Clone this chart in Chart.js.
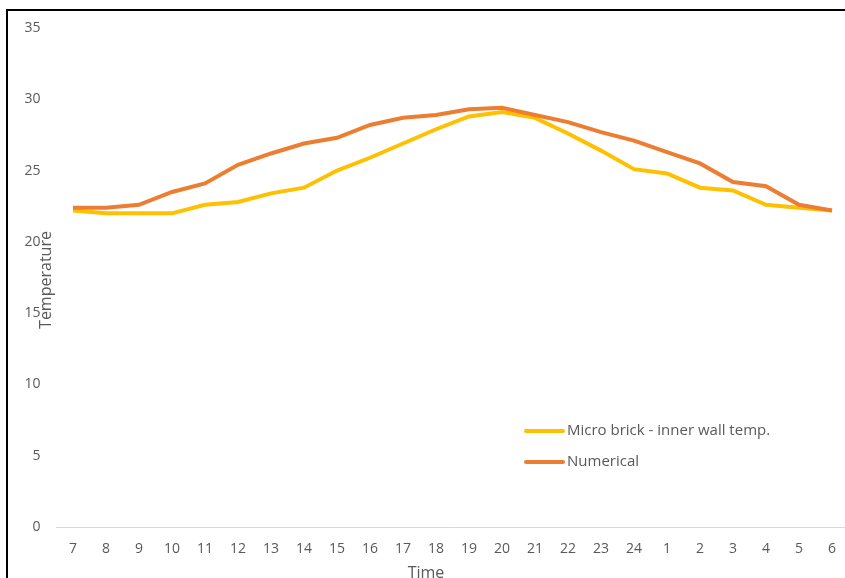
<!DOCTYPE html>
<html lang="en">
<head>
  <meta charset="UTF-8" />
  <title>Temperature</title>
  <script src="https://cdn.jsdelivr.net/npm/chart.js"></script>
  <style>
    body {
      margin: 0;
      background-color: #ffffff;
      overflow: hidden;
    }
    #wrap {
      position: relative;
      width: 845px;
      height: 578px;
      overflow: hidden;
    }
  </style>
</head>
<body>
  <div id="wrap">
    <canvas id="tempChart" width="850" height="578"></canvas>
  </div>

  <script>
    const hours = ["7", "8", "9", "10", "11", "12", "13", "14", "15", "16", "17", "18",
                   "19", "20", "21", "22", "23", "24", "1", "2", "3", "4", "5", "6"];

    const microBrick = [22.2, 22.0, 22.0, 22.0, 22.6, 22.8, 23.4, 23.8, 25.0, 25.9, 26.9, 27.9,
                        28.8, 29.1, 28.7, 27.6, 26.4, 25.1, 24.8, 23.8, 23.6, 22.6, 22.4, 22.2];

    const numerical = [22.4, 22.4, 22.6, 23.5, 24.1, 25.4, 26.2, 26.9, 27.3, 28.2, 28.7, 28.9,
                       29.3, 29.4, 28.9, 28.4, 27.7, 27.1, 26.3, 25.5, 24.2, 23.9, 22.6, 22.2];

    const yTicks = [0, 5, 10, 15, 20, 25, 30, 35];

    const textColor = "#595959";
    const fontFamily = "'Open Sans', sans-serif";

    // frame, axis titles and in-plot legend
    const extras = {
      id: "extras",
      afterDraw(chart) {
        const ctx = chart.ctx;
        ctx.save();

        ctx.strokeStyle = "#000000";
        ctx.lineWidth = 2;
        ctx.beginPath();
        ctx.moveTo(7, 578);
        ctx.lineTo(7, 10);
        ctx.lineTo(850, 10);
        ctx.stroke();

        ctx.fillStyle = textColor;
        ctx.font = "16px " + fontFamily;
        ctx.textAlign = "center";
        ctx.textBaseline = "middle";
        ctx.fillText("Time", 426, 573);

        ctx.save();
        ctx.translate(46, 280);
        ctx.rotate(-Math.PI / 2);
        ctx.fillText("Temperature", 0, 0);
        ctx.restore();

        ctx.font = "15px " + fontFamily;
        ctx.textAlign = "left";
        chart.data.datasets.forEach((ds, i) => {
          const y = 431 + i * 31;
          ctx.strokeStyle = ds.borderColor;
          ctx.lineWidth = 4;
          ctx.lineCap = "round";
          ctx.beginPath();
          ctx.moveTo(526, y);
          ctx.lineTo(563, y);
          ctx.stroke();
          ctx.fillText(ds.label, 567, y);
        });

        ctx.restore();
      }
    };

    const ctx = document.getElementById("tempChart").getContext("2d");
    new Chart(ctx, {
      type: "line",
      data: {
        labels: hours,
        datasets: [
          {
            label: "Micro brick - inner wall temp.",
            data: microBrick,
            borderColor: "#FFC000",
            borderWidth: 4,
            pointRadius: 0,
            tension: 0,
            order: 1
          },
          {
            label: "Numerical",
            data: numerical,
            borderColor: "#ED7D31",
            borderWidth: 4,
            pointRadius: 0,
            tension: 0,
            order: 0
          }
        ]
      },
      options: {
        responsive: false,
        animation: false,
        layout: {
          padding: { left: 6, top: 28, right: 0, bottom: 0 }
        },
        plugins: {
          legend: { display: false },
          tooltip: { enabled: false }
        },
        scales: {
          x: {
            offset: true,
            grid: { display: false, drawTicks: false },
            border: { display: true, color: "#d9d9d9", width: 1 },
            ticks: {
              color: textColor,
              font: { family: fontFamily, size: 14 },
              padding: 14,
              maxRotation: 0,
              autoSkip: false
            },
            afterFit: scale => { scale.height = 51; }
          },
          y: {
            min: 0,
            max: 35,
            afterBuildTicks: scale => {
              scale.ticks = yTicks.map(v => ({ value: v }));
            },
            grid: { display: false, drawTicks: false },
            border: { display: false },
            ticks: {
              color: textColor,
              font: { family: fontFamily, size: 14 },
              padding: 16
            },
            afterFit: scale => { scale.width = 50.5; }
          }
        }
      },
      plugins: [extras]
    });
  </script>
</body>
</html>
